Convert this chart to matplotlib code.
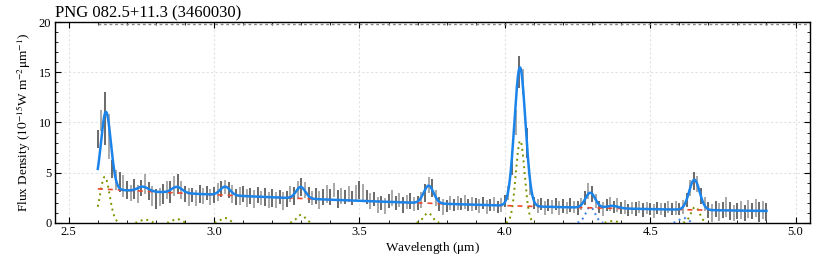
import numpy as np
import matplotlib
matplotlib.use("Agg")
import matplotlib.pyplot as plt
from matplotlib.ticker import MultipleLocator

plt.rcParams['font.family'] = 'serif'
plt.rcParams['font.serif'] = ['Liberation Serif', 'DejaVu Serif']
plt.rcParams['mathtext.fontset'] = 'stix'

# observed spectrum (um, 1e-15 W m-2 um-1)
wave = np.linspace(2.6, 4.9, 185)
flux = [8.4, 10.2, 10.4, 8.6, 5.4, 4.3, 4.1, 3.7,
        3.3, 3.0, 3.4, 2.9, 3.5, 3.9, 3.2, 2.7,
        2.4, 2.6, 2.9, 3.3, 3.1, 3.7, 3.9, 3.3,
        2.9, 2.6, 2.8, 2.5, 2.9, 2.7, 3.0, 2.6,
        2.8, 3.1, 3.4, 3.6, 3.3, 2.9, 2.6, 2.7,
        2.9, 2.5, 2.7, 2.4, 2.8, 2.5, 2.6, 2.3,
        2.5, 2.3, 2.6, 2.2, 2.4, 2.9, 2.7, 3.3,
        3.6, 3.3, 2.8, 2.5, 2.7, 2.3, 2.6, 2.9,
        2.6, 3.3, 2.4, 2.7, 2.6, 2.9, 2.5, 3.0,
        3.3, 3.1, 2.6, 2.2, 2.4, 1.8, 2.0, 1.7,
        2.2, 2.5, 2.0, 2.3, 1.8, 2.1, 2.2, 1.9,
        2.0, 2.3, 3.0, 3.8, 3.5, 2.5, 1.9, 1.6,
        1.7, 2.0, 1.8, 2.0, 1.9, 2.1, 1.8, 1.9,
        1.9, 1.7, 2.0, 1.6, 1.8, 1.9, 1.6, 1.8,
        2.2, 3.0, 5.6, 10.0, 15.0, 14.0, 8.0, 3.8,
        2.0, 1.7, 1.9, 1.5, 1.8, 1.6, 1.9, 1.5,
        1.7, 1.5, 1.8, 1.6, 1.5, 1.9, 2.5, 3.2,
        2.9, 2.2, 1.6, 1.4, 1.8, 1.9, 1.6, 1.8,
        1.5, 1.6, 1.3, 1.5, 1.4, 1.6, 1.3, 1.5,
        1.4, 1.2, 1.5, 1.4, 1.3, 1.6, 1.4, 1.5,
        1.4, 1.6, 2.3, 3.5, 4.2, 3.9, 2.7, 1.9,
        1.3, 1.0, 1.4, 1.1, 1.3, 1.6, 1.2, 1.0,
        1.2, 1.3, 1.0, 1.4, 1.2, 1.5, 1.1, 1.3, 1.1]
err = [0.9, 1.0, 2.6, 2.2, 0.9, 1.0, 1.0, 1.1,
       0.9, 0.8, 1.0, 0.9, 0.8, 1.0, 0.9, 1.0,
       1.0, 0.9, 1.0, 0.9, 1.1, 1.0, 1.0, 0.9,
       0.8, 0.9, 0.7, 0.8, 0.9, 0.8, 0.7, 0.8,
       0.8, 0.9, 0.8, 0.7, 0.8, 0.9, 0.8, 0.9,
       0.8, 0.9, 0.8, 0.9, 0.8, 0.7, 0.9, 0.8,
       0.9, 0.8, 0.7, 0.9, 0.8, 0.8, 0.9, 0.9,
       0.9, 0.8, 0.8, 0.7, 0.8, 0.9, 0.8, 0.9,
       0.8, 0.7, 0.9, 0.8, 0.7, 0.8, 0.7, 0.8,
       0.9, 0.8, 0.7, 0.8, 0.7, 0.8, 0.7, 0.8,
       0.7, 0.8, 0.7, 0.7, 0.8, 0.7, 0.8, 0.7,
       0.7, 0.8, 0.9, 0.8, 0.9, 0.8, 0.7, 0.8,
       0.6, 0.7, 0.6, 0.7, 0.6, 0.7, 0.6, 0.7,
       0.6, 0.7, 0.6, 0.7, 0.6, 0.7, 0.6, 0.7,
       0.6, 0.7, 0.8, 1.2, 1.6, 1.3, 1.5, 1.0,
       0.6, 0.7, 0.6, 0.7, 0.6, 0.7, 0.6, 0.7,
       0.7, 0.6, 0.7, 0.6, 0.7, 0.6, 0.7, 0.8,
       0.8, 0.7, 0.6, 0.7, 0.6, 0.7, 0.6, 0.7,
       0.6, 0.7, 0.6, 0.6, 0.7, 0.6, 0.7, 0.6,
       0.6, 0.7, 0.6, 0.6, 0.7, 0.6, 0.6, 0.7,
       0.6, 0.7, 0.7, 0.8, 0.9, 0.8, 0.8, 0.7,
       0.8, 0.9, 0.8, 0.9, 0.8, 1.0, 0.9, 0.8,
       0.8, 0.9, 0.8, 0.9, 0.8, 0.9, 1.0, 0.9, 0.9]

# continuum: quadratic in (wave - 3.75)
cont_coef = [0.2647, -0.9565, 1.95]

# fitted lines: centre, amplitude, sigma
fit_center = [2.628, 2.755, 2.872, 3.038, 3.298, 3.738, 4.052, 4.294, 4.370, 4.652]
fit_amp = [7.7, 0.45, 0.6, 0.85, 1.15, 1.75, 13.8, 1.5, 0.25, 3.0]
fit_sigma = [0.017, 0.018, 0.018, 0.017, 0.016, 0.017, 0.019, 0.017, 0.02, 0.018]

# individual components shown dotted
comp_center = [2.624, 2.762, 2.872, 3.037, 3.299, 3.736, 4.053, 4.372, 4.655, 4.294, 4.615]
comp_amp = [4.6, 0.35, 0.4, 0.5, 0.8, 1.0, 8.2, 0.2, 1.6, 1.6, 0.5]
comp_sigma = [0.0166, 0.015, 0.015, 0.015, 0.015, 0.015, 0.015, 0.015, 0.015, 0.016, 0.015]
comp_color = ['#7d9400'] * 9 + ['#3a7fe0'] * 2

upper_level = 19.85


def gauss(x, c, a, s):
    return a * np.exp(-(x - c) ** 2 / (2 * s ** 2))


fig = plt.figure(figsize=(8.3, 2.56), dpi=100)
ax = fig.add_axes([0.066, 0.129, 0.910, 0.785])

xx = np.linspace(2.6, 4.9, 2000)
cont = np.polyval(cont_coef, xx - 3.75)
model = cont.copy()
for c, a, s in zip(fit_center, fit_amp, fit_sigma):
    model += gauss(xx, c, a, s)

ax.plot([2.6, 5.1], [upper_level, upper_level], color='#888888', ls=(0, (2, 2)), lw=1, zorder=1)

flux = np.array(flux)
err = np.array(err)
for k in range(2):
    sel = slice(k, None, 2)
    ax.vlines(wave[sel], flux[sel] - err[sel], flux[sel] + err[sel],
              color=['#505050', '#999999'][k], lw=1.2, zorder=2)

for c, a, s, col in zip(comp_center, comp_amp, comp_sigma, comp_color):
    g = gauss(xx, c, a, s)
    g[g < 0.03] = np.nan
    ax.plot(xx, g, color=col, ls=(0, (1, 2)), lw=1.4, zorder=3)

ax.plot(xx, cont, color='#ee4a2a', ls=(0, (3, 3)), lw=1.2, zorder=4)
ax.plot(xx, model, color='#1a84ea', lw=1.8, zorder=5)

ax.set_xlim(2.452, 5.05)
ax.set_ylim(0, 20)
ax.xaxis.set_major_locator(MultipleLocator(0.5))
ax.xaxis.set_minor_locator(MultipleLocator(0.1))
ax.yaxis.set_major_locator(MultipleLocator(5))
ax.yaxis.set_minor_locator(MultipleLocator(1))
ax.tick_params(which='both', direction='in', top=True, right=True, labelsize=9, pad=2.5)
ax.tick_params(which='major', length=4)
ax.tick_params(which='minor', length=2)
ax.grid(True, which='major', color='#e2e2e2', ls=(0, (2, 2)), lw=0.8)
ax.set_axisbelow(True)
for sp in ax.spines.values():
    sp.set_linewidth(1.0)

ax.set_xlabel(r'Wavelength ($\mathrm{\mu}$m)', fontsize=9.5, labelpad=1)
ax.set_ylabel(r'Flux Density ($10^{-15}$W m$^{-2}$$\mathrm{\mu}$m$^{-1}$)', fontsize=9.5, labelpad=4)
ax.set_title('PNG 082.5+11.3 (3460030)', loc='left', fontsize=12, pad=3)

fig.savefig('out.png', dpi=100)
